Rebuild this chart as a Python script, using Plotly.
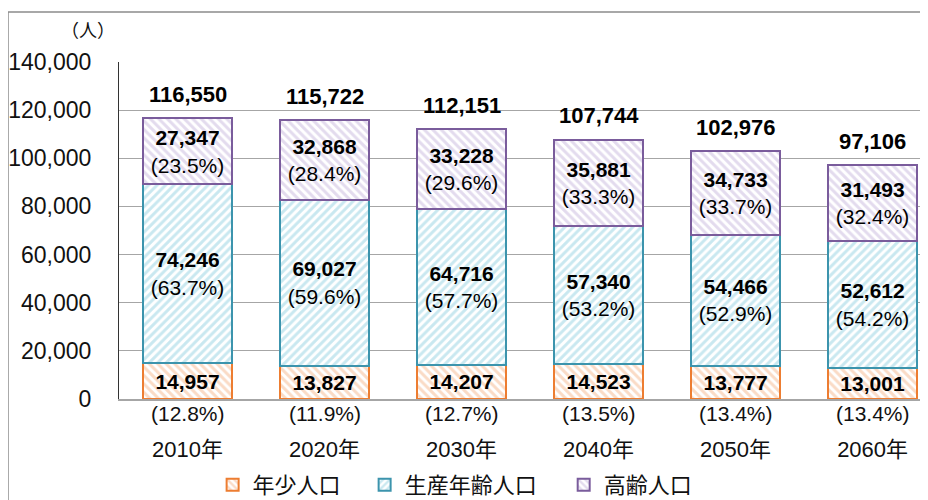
import plotly.graph_objects as go

years = ["2010年", "2020年", "2030年", "2040年", "2050年", "2060年"]
young = [14957, 13827, 14207, 14523, 13777, 13001]
working = [74246, 69027, 64716, 57340, 54466, 52612]
elderly = [27347, 32868, 33228, 35881, 34733, 31493]
totals = [116550, 115722, 112151, 107744, 102976, 97106]
pct_young = ["(12.8%)", "(11.9%)", "(12.7%)", "(13.5%)", "(13.4%)", "(13.4%)"]
pct_working = ["(63.7%)", "(59.6%)", "(57.7%)", "(53.2%)", "(52.9%)", "(54.2%)"]
pct_elderly = ["(23.5%)", "(28.4%)", "(29.6%)", "(33.3%)", "(33.7%)", "(32.4%)"]
series_names = ["年少人口", "生産年齢人口", "高齢人口"]
y_ticks = [0, 20000, 40000, 60000, 80000, 100000, 120000, 140000]

FONT = "Liberation Sans, Noto Sans CJK JP, sans-serif"
CJK = "Noto Sans CJK JP, Liberation Sans, sans-serif"

fig = go.Figure()

def fmt(v):
    return f"{v:,}"

fig.add_trace(go.Bar(
    name=series_names[0], x=years, y=young, legend="legend",
    text=[f"<b>{fmt(v)}</b>" for v in young],
    textposition="inside", insidetextanchor="middle", textangle=0,
    textfont=dict(family=FONT, size=21, color="#000"),
    marker=dict(color="white", line=dict(color="#ED7D31", width=2),
                pattern=dict(shape="\\", fgcolor="#F5B78E", bgcolor="white", size=6, solidity=0.5)),
    width=0.65,
))
fig.add_trace(go.Bar(
    name=series_names[1], x=years, y=working, legend="legend2",
    text=[f"<b>{fmt(v)}</b><br>{p}" for v, p in zip(working, pct_working)],
    textposition="inside", insidetextanchor="middle", textangle=0,
    textfont=dict(family=FONT, size=21, color="#000"),
    marker=dict(color="white", line=dict(color="#3C94AD", width=2),
                pattern=dict(shape="/", fgcolor="#94D1E2", bgcolor="white", size=6, solidity=0.5)),
    width=0.65,
))
fig.add_trace(go.Bar(
    name=series_names[2], x=years, y=elderly, legend="legend3",
    text=[f"<b>{fmt(v)}</b><br>{p}" for v, p in zip(elderly, pct_elderly)],
    textposition="inside", insidetextanchor="middle", textangle=0,
    textfont=dict(family=FONT, size=21, color="#000"),
    marker=dict(color="white", line=dict(color="#7A5C9C", width=2),
                pattern=dict(shape="\\", fgcolor="#C8B8DD", bgcolor="white", size=6, solidity=0.5)),
    width=0.65,
))

annotations = []
for yr, t in zip(years, totals):
    annotations.append(dict(x=yr, y=t, xref="x", yref="y", text=f"<b>{fmt(t)}</b>",
                            showarrow=False, yanchor="middle", yshift=24,
                            font=dict(family="Liberation Sans Narrow, Liberation Sans, sans-serif", size=22, color="#000")))
for yr, p in zip(years, pct_young):
    annotations.append(dict(x=yr, y=0, xref="x", yref="paper", text=p,
                            showarrow=False, yanchor="middle", yshift=-14,
                            font=dict(family=FONT, size=21, color="#111")))
annotations.append(dict(x=0, y=1, xref="paper", yref="paper", text="（人）", showarrow=False,
                        xanchor="right", yanchor="bottom", xshift=-2, yshift=18,
                        font=dict(family=CJK, size=18, color="#111")))

legend_common = dict(orientation="h", xanchor="left", yref="container", y=0.046, yanchor="middle",
                     xref="container", font=dict(family=CJK, size=22, color="#111"),
                     itemclick=False, bgcolor="rgba(0,0,0,0)")

fig.update_layout(
    width=928, height=500,
    margin=dict(l=111, r=9, t=54, b=109, autoexpand=False),
    barmode="stack",
    bargap=0.35,
    plot_bgcolor="white", paper_bgcolor="white",
    font=dict(family=FONT, color="#111"),
    showlegend=True,
    legend=dict(x=0.2205, **legend_common),
    legend2=dict(x=0.3843, **legend_common),
    legend3=dict(x=0.5988, **legend_common),
    annotations=annotations,
    uniformtext=dict(mode="show", minsize=21),
    shapes=[dict(type="rect", xref="paper", yref="paper", x0=-0.1374, x1=1.05, y0=-0.35, y1=1.148,
                 line=dict(color="#8C8C8C", width=1.5), layer="below")],
)
fig.update_xaxes(
    type="category", range=[-0.5, 5.397], automargin=False,
    showgrid=False, showline=True, linecolor="#A6A6A6", linewidth=1.5,
    ticks="", tickfont=dict(family=FONT, size=22, color="#111"),
    ticklabelstandoff=30,
)
fig.update_yaxes(
    range=[0, 140000], tickvals=y_ticks, ticktext=[fmt(v) for v in y_ticks], automargin=False,
    showgrid=True, gridcolor="#A6A6A6", gridwidth=1,
    showline=True, linecolor="#333", linewidth=1.2,
    zeroline=False, ticks="", tickfont=dict(family=FONT, size=23, color="#111"),
    ticklabelstandoff=22,
)

fig.write_html("out.html")
